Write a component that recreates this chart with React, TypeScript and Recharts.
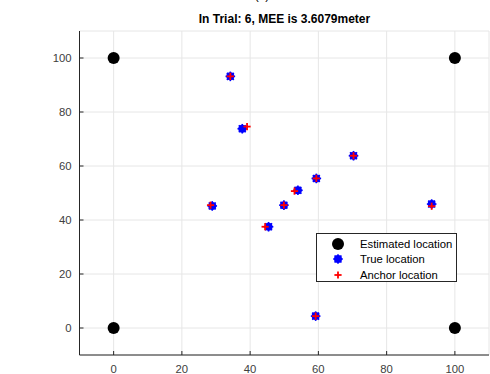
import React from 'react'
import { ScatterChart, Scatter, XAxis, YAxis, CartesianGrid, Legend } from 'recharts'

// corner markers (black)
const estX = [0, 0, 100, 100]
const estY = [0, 100, 0, 100]

// blue markers
const trueX = [34.2, 37.7, 70.3, 59.4, 54.0, 49.9, 28.9, 45.4, 93.2, 59.2]
const trueY = [93.2, 73.8, 63.8, 55.4, 51.0, 45.5, 45.2, 37.5, 45.9, 4.4]

// red markers
const anchorX = [34.2, 39.1, 70.3, 59.4, 53.0, 49.9, 28.4, 44.4, 93.2, 59.2]
const anchorY = [93.2, 74.6, 63.8, 55.4, 50.7, 45.5, 45.5, 37.5, 45.1, 4.4]

const ticks = [0, 20, 40, 60, 80, 100]
const seriesNames = ['Estimated location', 'True location', 'Anchor location']
const title = 'In Trial: 6, MEE is 3.6079meter'

const zip = (xs: number[], ys: number[]) => xs.map((x, i) => ({ x, y: ys[i] }))

const AXIS = '#262626'
const FONT = '"Liberation Sans", Arial, sans-serif'

function BlackDot({ cx, cy }: any) {
  return <circle cx={cx} cy={cy} r={6} fill="#000" />
}

// MATLAB-ish thick asterisk, reads as a blue blob
function BlueStar({ cx, cy }: any) {
  const r = 4.8
  const d = r * 0.72
  return (
    <g stroke="#0000ff" strokeWidth={1.6}>
      <circle cx={cx} cy={cy} r={4} fill="#0000ff" stroke="none" />
      <line x1={cx - r} y1={cy} x2={cx + r} y2={cy} />
      <line x1={cx} y1={cy - r} x2={cx} y2={cy + r} />
      <line x1={cx - d} y1={cy - d} x2={cx + d} y2={cy + d} />
      <line x1={cx - d} y1={cy + d} x2={cx + d} y2={cy - d} />
    </g>
  )
}

function RedPlus({ cx, cy }: any) {
  return (
    <g stroke="#ff0000" strokeWidth={1.8}>
      <line x1={cx - 3.6} y1={cy} x2={cx + 3.6} y2={cy} />
      <line x1={cx} y1={cy - 3.6} x2={cx} y2={cy + 3.6} />
    </g>
  )
}

const markers = [BlackDot, BlueStar, RedPlus]

function LegendBox() {
  return (
    <div
      style={{
        width: 141,
        height: 49,
        boxSizing: 'border-box',
        border: `1px solid ${AXIS}`,
        background: '#fff',
        fontFamily: FONT,
        fontSize: 11.3,
        color: '#000',
        position: 'relative',
      }}
    >
      {seriesNames.map((name, i) => {
        const Marker = markers[i]
        const cyRow = [9.5, 25, 40.5][i]
        return (
          <div key={name}>
            <svg width={20} height={16} style={{ position: 'absolute', left: 11, top: cyRow - 8 }}>
              <Marker cx={10} cy={8} />
            </svg>
            <span style={{ position: 'absolute', left: 43, top: cyRow - 7, lineHeight: '14px', whiteSpace: 'nowrap' }}>
              {name}
            </span>
          </div>
        )
      })}
    </div>
  )
}

export default function App() {
  return (
    <div style={{ position: 'absolute', left: 0, top: 0, width: 490, height: 374, background: '#fff' }}>
      <ScatterChart
        width={490}
        height={374}
        margin={{ top: 31, right: 1, bottom: 0, left: 0 }}
        style={{ fontFamily: FONT }}
      >
        <CartesianGrid stroke="#e6e6e6" />
        <XAxis
          type="number"
          dataKey="x"
          domain={[-10, 110]}
          ticks={ticks}
          height={19}
          tickSize={-4}
          tickMargin={14}
          axisLine={{ stroke: AXIS }}
          tickLine={{ stroke: AXIS }}
          tick={{ fontSize: 11.3, fill: '#404040' }}
        />
        <XAxis
          xAxisId="top"
          orientation="top"
          type="number"
          dataKey="x"
          domain={[-10, 110]}
          ticks={ticks}
          height={0}
          tickSize={-4}
          axisLine={{ stroke: AXIS }}
          tickLine={{ stroke: AXIS }}
          tick={false}
        />
        <YAxis
          type="number"
          dataKey="y"
          domain={[-10, 110]}
          ticks={ticks}
          width={79.5}
          tickSize={-4}
          tickMargin={12}
          axisLine={{ stroke: AXIS }}
          tickLine={{ stroke: AXIS }}
          tick={{ fontSize: 11.3, fill: '#404040' }}
        />
        <YAxis
          yAxisId="right"
          orientation="right"
          type="number"
          dataKey="y"
          domain={[-10, 110]}
          ticks={ticks}
          width={0}
          tickSize={-4}
          axisLine={{ stroke: AXIS }}
          tickLine={{ stroke: AXIS }}
          tick={false}
        />
        <Scatter name={seriesNames[0]} data={zip(estX, estY)} shape={BlackDot} isAnimationActive={false} />
        <Scatter name={seriesNames[1]} data={zip(trueX, trueY)} shape={BlueStar} isAnimationActive={false} />
        <Scatter name={seriesNames[2]} data={zip(anchorX, anchorY)} shape={RedPlus} isAnimationActive={false} />
        <Legend
          layout="vertical"
          align="center"
          verticalAlign="middle"
          content={() => <LegendBox />}
          wrapperStyle={{ left: 316, top: 233, width: 141, height: 49 }}
        />
        <text x={262} y={-1} textAnchor="middle" fontSize={12} fill="#000">(a)</text>
        <text x={284.5} y={23} textAnchor="middle" fontSize={12} fontWeight="bold" fill="#000">
          {title}
        </text>
      </ScatterChart>
    </div>
  )
}
